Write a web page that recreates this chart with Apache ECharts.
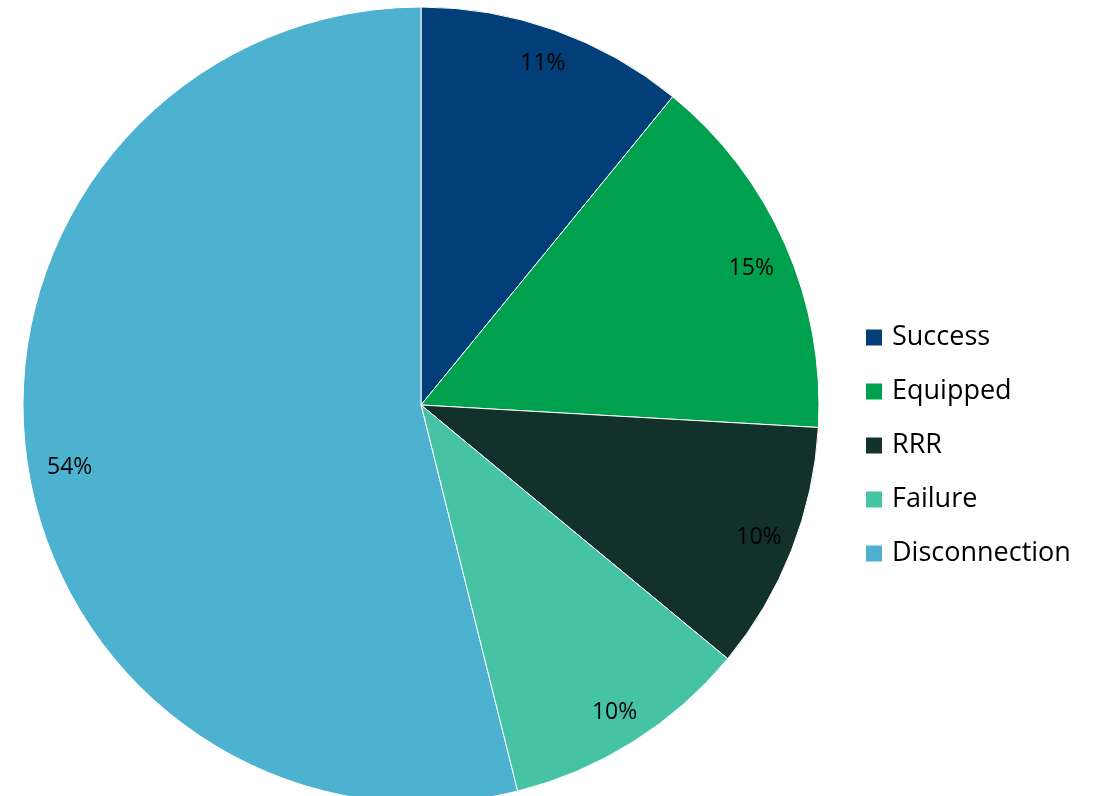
<!DOCTYPE html>
<html>
<head>
	<meta charset="utf-8" />
	<title>pie</title>
	<script src="https://cdn.jsdelivr.net/npm/echarts@6/dist/echarts.min.js"></script>
	<style>
		html, body {margin:0;padding:0;background:#fff;}
		#chart {width:1107px;height:796px;}
	</style>
</head>
<body>
	<div id="chart"></div>
	<script>
		var categories = ['Success', 'Equipped', 'RRR', 'Failure', 'Disconnection'];
		var values = [10.9, 15.0, 10.1, 10.1, 53.9];
		var colors = ['#023e78', '#00a14e', '#12312b', '#46c3a5', '#4db1d0'];

		var data = categories.map((c, i) => ({name: c, value: values[i], itemStyle: {color: colors[i]}}));

		// 라벨 위치 미세조정 (엑셀 best fit 흉내)
		var labelNudge = {Equipped: [-2, 10], Disconnection: [9, 18]};

		var chart = echarts.init(document.getElementById('chart'));

		var option = {
			animation: false,
			textStyle: {fontFamily: 'Open Sans'},
			legend: {
				orient: 'vertical',
				left: 859,
				top: 319,
				itemWidth: 18,
				itemHeight: 18,
				itemGap: 27,
				icon: 'rect',
				textStyle: {fontSize: 27, lineHeight: 24, color: '#000', padding: [0, 0, 0, 4]},
				data: categories
			},
			series: [
				{
					type: 'pie',
					center: [421, 405],
					radius: [0, 398],
					startAngle: 90,
					clockwise: true,
					label: {show: false},
					labelLine: {show: false},
					itemStyle: {borderColor: '#fff', borderWidth: 1},
					emphasis: {disabled: true},
					data: data
				},
				{
					// 라벨 전용 (0.9r 위치)
					type: 'pie',
					center: [421, 405],
					radius: [322, 398],
					startAngle: 90,
					silent: true,
					percentPrecision: 0,
					itemStyle: {color: 'transparent'},
					label: {
						position: 'inside',
						formatter: '{d}%',
						fontSize: 23,
						color: '#000'
					},
					labelLine: {show: false},
					emphasis: {disabled: true},
					data: categories.map((c, i) => {
						var d = {name: c, value: values[i]};
						if (labelNudge[c]) d.label = {offset: labelNudge[c]};
						return d;
					})
				}
			]
		};

		chart.setOption(option);
	</script>
</body>
</html>
